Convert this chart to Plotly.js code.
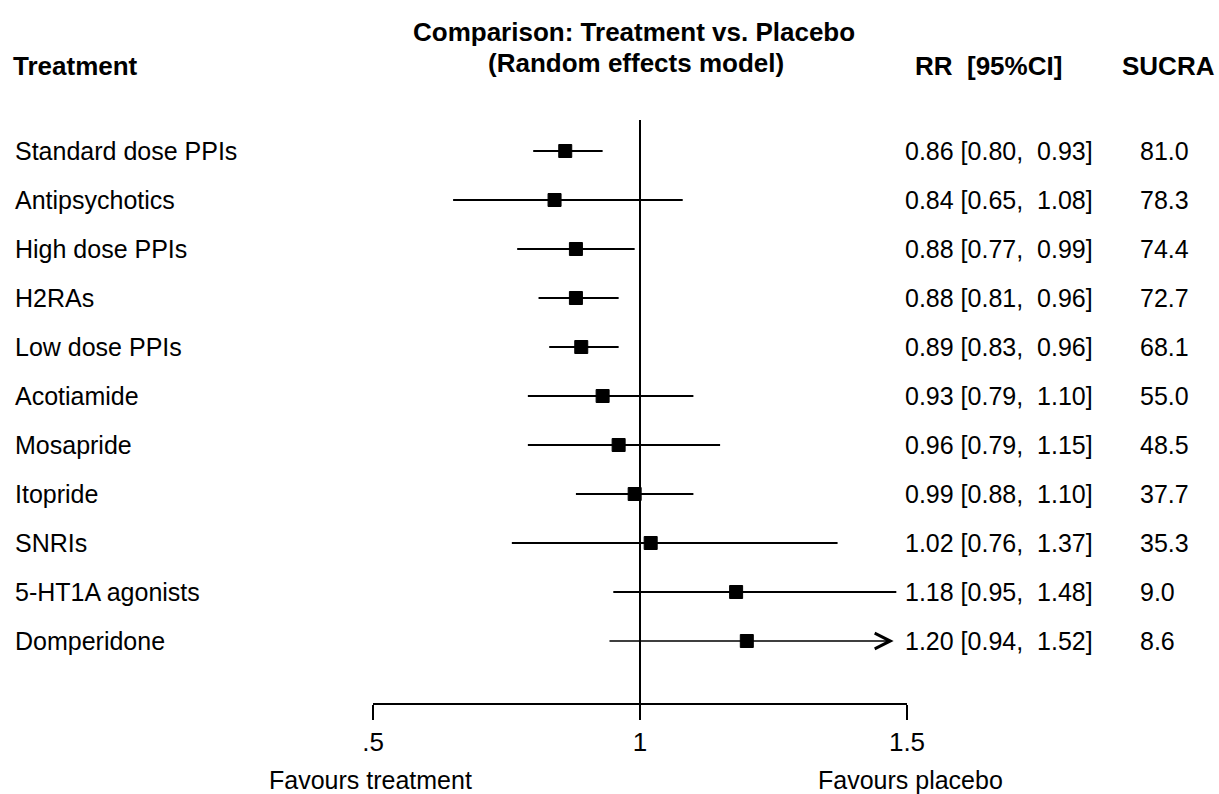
<!DOCTYPE html>
<html>
<head>
<meta charset="utf-8">
<script src="https://cdn.plot.ly/plotly-3.0.1.min.js"></script>
<style>html,body{margin:0;padding:0;background:#fff;}#chart{width:1219px;height:794px;}</style>
</head>
<body>
<div id="chart"></div>
<script>
// ---- data ----
var treatments = ["Standard dose PPIs", "Antipsychotics", "High dose PPIs", "H2RAs", "Low dose PPIs",
  "Acotiamide", "Mosapride", "Itopride", "SNRIs", "5-HT1A agonists", "Domperidone"];
var rr    = [0.86, 0.84, 0.88, 0.88, 0.89, 0.93, 0.96, 0.99, 1.02, 1.18, 1.20];
var ciLow = [0.80, 0.65, 0.77, 0.81, 0.83, 0.79, 0.79, 0.88, 0.76, 0.95, 0.94];
var ciHigh= [0.93, 1.08, 0.99, 0.96, 0.96, 1.10, 1.15, 1.10, 1.37, 1.48, 1.52];
var sucra = ["81.0", "78.3", "74.4", "72.7", "68.1", "55.0", "48.5", "37.7", "35.3", "9.0", "8.6"];
var tickVals = [0.5, 1, 1.5];
var tickText = [".5", "1", "1.5"];
var titleLines = ["Comparison: Treatment vs. Placebo", "(Random effects model)"];

// ---- styling / layout constants ----
var FONT = "Liberation Sans, Arial, Helvetica, sans-serif";
var FS = 25;       // regular text
var FSB = 26;      // bold headers / title
var axisMax = 1.5;
var clipMax = 1.475;   // where out-of-range intervals are cut with an arrow
var L = 373, R = 907, T = 120, B = 703, W = 1219, H = 794;
function px2paperX(p){ return (p - L) / (R - L); }
function px2paperY(p){ return (B - p) / (B - T); }

var rows = treatments.map(function(_, i){ return i + 1; });

var traces = [];
var annotations = [];
var shapes = [];

// CI lines
treatments.forEach(function(t, i){
  var y = rows[i];
  if (ciHigh[i] > axisMax) {
    annotations.push({
      x: clipMax, y: y, xref: "x", yref: "y",
      ax: ciLow[i], ay: y, axref: "x", ayref: "y",
      showarrow: true, arrowhead: 5, arrowsize: 1.8, arrowwidth: 1.7,
      arrowcolor: "#000", text: ""
    });
  } else {
    traces.push({
      type: "scatter", mode: "lines", x: [ciLow[i], ciHigh[i]], y: [y, y],
      line: {color: "#000", width: 2}, hoverinfo: "skip", showlegend: false
    });
  }
});

// point estimates
traces.push({
  type: "scatter", mode: "markers", x: rr, y: rows,
  marker: {symbol: "square", size: 13, color: "#000", line: {color: "#000", width: 1}},
  showlegend: false, hoverinfo: "x"
});

// reference line at 1
shapes.push({type: "line", xref: "x", yref: "paper", x0: 1, x1: 1, y0: 0, y1: 1,
  line: {color: "#000", width: 2}});

var regFont = {family: FONT, size: FS, color: "#000"};
var boldFont = {family: FONT, size: FSB, color: "#000"};

// text columns
treatments.forEach(function(t, i){
  var y = rows[i];
  annotations.push({xref: "paper", yref: "y", x: px2paperX(13), y: y, text: t,
    xanchor: "left", yanchor: "middle", showarrow: false, font: regFont});
  var txt = rr[i].toFixed(2) + " [" + ciLow[i].toFixed(2) + ",&nbsp; " + ciHigh[i].toFixed(2) + "]";
  annotations.push({xref: "paper", yref: "y", x: px2paperX(903), y: y, text: txt,
    xanchor: "left", yanchor: "middle", showarrow: false, font: regFont});
  annotations.push({xref: "paper", yref: "y", x: px2paperX(1138), y: y, text: sucra[i],
    xanchor: "left", yanchor: "middle", showarrow: false, font: regFont});
});

// headers
annotations.push({xref: "paper", yref: "paper", x: px2paperX(11), y: px2paperY(66), text: "<b>Treatment</b>",
  xanchor: "left", yanchor: "middle", showarrow: false, font: boldFont});
annotations.push({xref: "paper", yref: "paper", x: px2paperX(913), y: px2paperY(66), text: "<b>RR&nbsp; [95%CI]</b>",
  xanchor: "left", yanchor: "middle", showarrow: false, font: boldFont});
annotations.push({xref: "paper", yref: "paper", x: px2paperX(1120), y: px2paperY(66), text: "<b>SUCRA</b>",
  xanchor: "left", yanchor: "middle", showarrow: false, font: boldFont});

// title (two centred lines)
annotations.push({xref: "paper", yref: "paper", x: px2paperX(634), y: px2paperY(32), text: "<b>" + titleLines[0] + "</b>",
  xanchor: "center", yanchor: "middle", showarrow: false, font: boldFont});
annotations.push({xref: "paper", yref: "paper", x: px2paperX(636), y: px2paperY(63), text: "<b>" + titleLines[1] + "</b>",
  xanchor: "center", yanchor: "middle", showarrow: false, font: boldFont});

// favours labels
annotations.push({xref: "paper", yref: "paper", x: px2paperX(370), y: px2paperY(780), text: "Favours treatment",
  xanchor: "center", yanchor: "middle", showarrow: false, font: regFont});
annotations.push({xref: "paper", yref: "paper", x: px2paperX(910), y: px2paperY(780), text: "Favours placebo",
  xanchor: "center", yanchor: "middle", showarrow: false, font: regFont});

var rowPx = 49;
var layout = {
  width: W, height: H,
  margin: {l: L, r: W - R, t: T, b: H - B, pad: 0},
  paper_bgcolor: "#fff", plot_bgcolor: "#fff",
  xaxis: {
    range: [0.5, axisMax], tickvals: tickVals, ticktext: tickText,
    showline: true, linecolor: "#000", linewidth: 1.5, mirror: false,
    ticks: "outside", ticklen: 15, tickwidth: 1.5, tickcolor: "#000",
    showgrid: false, zeroline: false,
    tickfont: {family: FONT, size: 26, color: "#000"}
  },
  yaxis: {
    range: [11 + (B - 641) / rowPx, 1 - (151 - T) / rowPx],
    visible: false, showgrid: false, zeroline: false
  },
  shapes: shapes,
  annotations: annotations,
  showlegend: false
};

Plotly.newPlot("chart", traces, layout, {displayModeBar: false, staticPlot: true});
</script>
</body>
</html>
